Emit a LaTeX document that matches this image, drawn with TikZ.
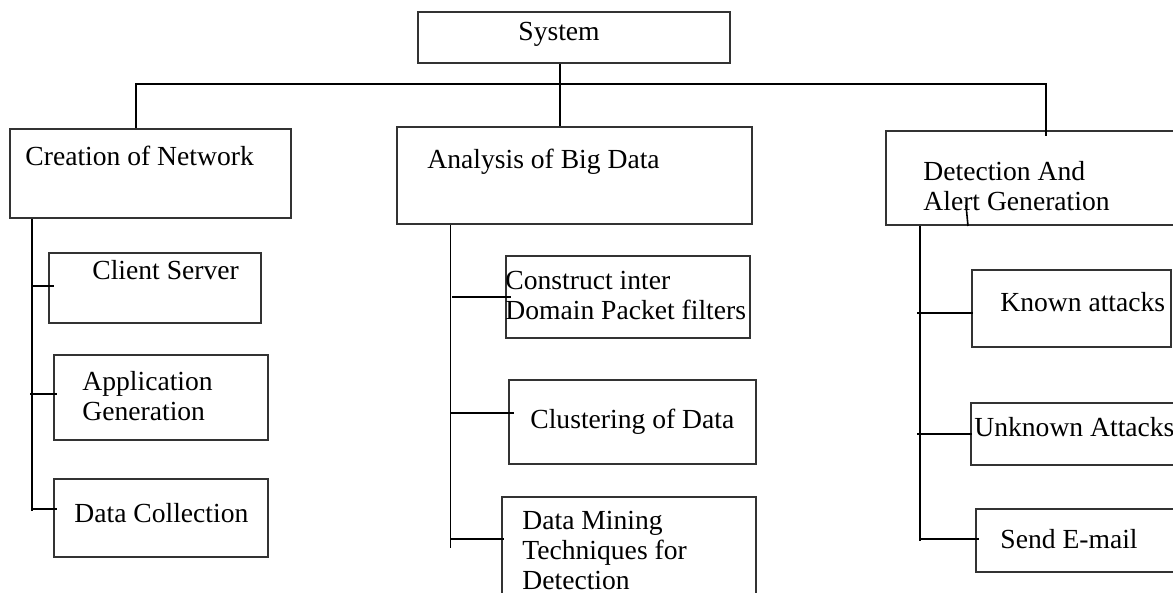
\documentclass[tikz,border=0pt]{standalone}
\usepackage{fontspec}
\setmainfont{Liberation Serif}
\usetikzlibrary{fit}
\begin{document}
\begin{tikzpicture}[x=0.5pt,y=-0.5pt,
  box/.style={draw=black!80, line width=0.8pt, inner sep=0pt, rectangle},
  txt/.style={inner sep=0pt, anchor=base west, align=left, font=\fontsize{13.8}{15}\selectfont},
  conn/.style={draw=black, line width=0.8pt}]
\useasboundingbox (0,0) rectangle (1173,593);
% boxes
\node[box, fit={(418,12)(730,63)}] (sys) {};
\node[box, fit={(10,129)(291,218)}] (cre) {};
\node[box, fit={(397,127)(752,224)}] (ana) {};
\node[box, fit={(886,131)(1185,225)}] (det) {};
\node[box, fit={(49,253)(261,323)}] (cs) {};
\node[box, fit={(54,355)(268,440)}] (ag) {};
\node[box, fit={(54,479)(268,557)}] (dc) {};
\node[box, fit={(506,256)(750,338)}] (cp) {};
\node[box, fit={(509,380)(756,464)}] (cl) {};
\node[box, fit={(502,497)(756,605)}] (dm) {};
\node[box, fit={(972,270)(1171,347)}] (ka) {};
\node[box, fit={(971,403)(1185,465)}] (ua) {};
\node[box, fit={(976,509)(1185,572)}] (se) {};
% texts (base anchor = baseline of the last line)
\node[txt] (sysT) at (518,41) {System};
\node[txt] (creT) at (25,166) {Creation of Network};
\node[txt] (anaT) at (427,169) {Analysis of Big Data};
\node[txt] (detT) at (923,211) {Detection And\\Alert Generation};
\node[txt] (csT) at (92,280) {Client Server};
\node[txt] (agT) at (82,420) {Application\\Generation};
\node[txt] (dcT) at (74,522) {Data Collection};
\node[txt] (cpT) at (505,320) {Construct inter\\Domain Packet filters};
\node[txt] (clT) at (530,428) {Clustering of Data};
\node[txt] (dmT) at (522,589) {Data Mining\\Techniques for\\Detection};
\node[txt] (kaT) at (1000,312) {Known attacks};
\node[txt] (uaT) at (974,437) {Unknown Attacks};
\node[txt] (seT) at (1000,548) {Send E-mail};
% bus
\coordinate (busL) at (136,84);
\coordinate (busR) at (1046,84);
\coordinate (busM) at (560,84);
\draw[conn] (busL |- cre.north) -- (busL) -- (busR) -- ([yshift=-3pt]busR |- det.north);
\draw[conn] (busM |- sys.south) -- (busM |- ana.north);
% stray mark
\draw[conn] (966,205) -- (968,226);
% column 1
\coordinate (t1) at (32,0);
\draw[conn] (t1 |- cre.south) -- (32,511);
\draw[conn] (32,286) -- ([xshift=3pt]cs.west |- 0,286);
\draw[conn] (30,394) -- ([xshift=2pt]ag.west |- 0,394);
\draw[conn] (32,509) -- ([xshift=2pt]dc.west |- 0,509);
% column 2
\coordinate (t2) at (450.5,0);
\draw[conn] (t2 |- ana.south) -- (450.5,548);
\draw[conn] (452,297) -- ([xshift=3pt]cp.west |- 0,297);
\draw[conn] (450,413) -- ([xshift=3pt]cl.west |- 0,413);
\draw[conn] (451,539) -- ([xshift=1.5pt]dm.west |- 0,539);
% column 3
\coordinate (t3) at (920,0);
\draw[conn] (t3 |- det.south) -- (920,541);
\draw[conn] (917,313) -- ([xshift=1pt]ka.west |- 0,313);
\draw[conn] (917,434) -- ([xshift=1pt]ua.west |- 0,434);
\draw[conn] (920,539) -- ([xshift=2pt]se.west |- 0,539);
\end{tikzpicture}
\end{document}
